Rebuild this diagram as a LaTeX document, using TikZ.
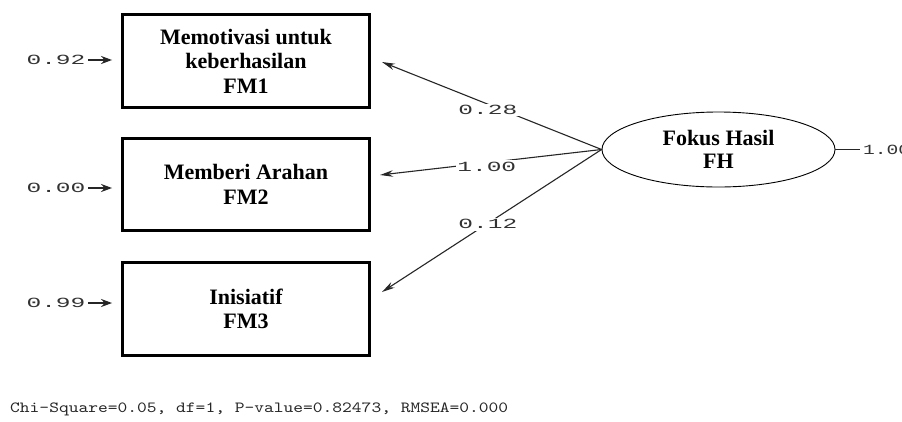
\documentclass[tikz,border=0pt]{standalone}
\usepackage{fontspec}
\setmainfont{Liberation Serif}
\newfontfamily\coeffont{Liberation Mono}[FakeStretch=1.75]
\newfontfamily\coefnarrowfont{Liberation Mono}[FakeStretch=1.4]
\newfontfamily\statfont{lmmono10-regular.otf}[FakeStretch=1.2]
\usetikzlibrary{arrows.meta,shapes.geometric}
\begin{document}
\begin{tikzpicture}[x=1pt,y=-1pt,
  indicator/.style={draw, line width=3.4pt, minimum width=246.5pt, minimum height=92.5pt,
    inner sep=0pt, align=center, font=\bfseries\fontsize{22}{24.5}\selectfont},
  latent/.style={draw, ellipse, line width=0.9pt, minimum width=233pt, minimum height=75pt,
    inner sep=0pt, align=center, font=\bfseries\fontsize{22}{23.5}\selectfont},
  loading/.style={draw=black!85, line width=1.1pt, -{Stealth[length=13pt,width=6.5pt]}},
  errarrow/.style={draw=black!85, line width=2pt, -{Stealth[length=11pt,width=8pt]}},
  coef/.style={fill=white, inner sep=1.5pt, text=black!80, font=\coeffont\fontsize{14}{15}\selectfont},
  errlbl/.style={inner sep=0pt, text=black!80, font=\coeffont\fontsize{14}{15}\selectfont},
  stat/.style={inner sep=0pt, text=black!85, font=\statfont\fontsize{15.5}{18}\selectfont}]
\useasboundingbox (0,0) rectangle (902,421);
\fill[white] (0,0) rectangle (902,421);

% observed indicators
\node[indicator] (fm1) at (246,61)    {Memotivasi untuk\\keberhasilan\\FM1};
\node[indicator] (fm2) at (246,184.5) {Memberi Arahan\\FM2};
\node[indicator] (fm3) at (246,309)   {Inisiatif\\FM3};

% latent factor
\node[latent] (fh) at (718.5,149.5) {Fokus Hasil\\FH};

% arrow tips next to the indicators
\coordinate (t1) at (382,62);
\coordinate (t2) at (380,175);
\coordinate (t3) at (382,292);

% factor loadings
\draw[loading] (fh.west) -- (t1) node[coef, pos=0.518, yshift=-6pt] {0.28};
\draw[loading] (fh.west) -- (t2) node[coef, pos=0.518, yshift=-4pt] {1.00};
\draw[loading] (fh.west) -- (t3) node[coef, pos=0.518, yshift=-1pt] {0.12};

% error variances
\node[errlbl] (e1) at (56,60)  {0.92};
\node[errlbl] (e2) at (56,188) {0.00};
\node[errlbl] (e3) at (56,303) {0.99};
\coordinate (s1) at (88,60);
\coordinate (s2) at (88,188);
\coordinate (s3) at (88,303);
\draw[errarrow, shorten >=9pt] (s1) -- (fm1.west |- s1);
\draw[errarrow, shorten >=9pt] (s2) -- (fm2.west |- s2);
\draw[errarrow, shorten >=9pt] (s3) -- (fm3.west |- s3);

% factor variance
\draw[draw=black!85, line width=1.1pt] (fh.east) -- ++(25,0) coordinate (v)
  node[errlbl, anchor=west, xshift=2pt, font=\coefnarrowfont\fontsize{14}{15}\selectfont] (fhvar) {1.00};

% fit statistics
\node[stat, anchor=base west] (fit) at (10,412)
  {Chi-Square=0.05, df=1, P-value=0.82473, RMSEA=0.000};
\end{tikzpicture}
\end{document}
